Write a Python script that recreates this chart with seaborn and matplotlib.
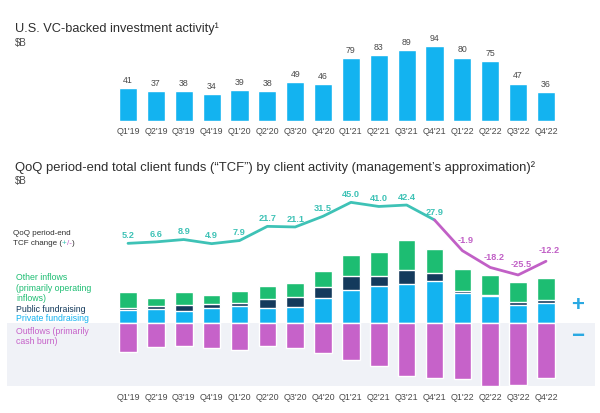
import numpy as np
import pandas as pd
import matplotlib
matplotlib.use("Agg")
import matplotlib.pyplot as plt
from matplotlib.patches import Rectangle
import seaborn as sns

quarters = ["Q1'19", "Q2'19", "Q3'19", "Q4'19", "Q1'20", "Q2'20", "Q3'20", "Q4'20",
            "Q1'21", "Q2'21", "Q3'21", "Q4'21", "Q1'22", "Q2'22", "Q3'22", "Q4'22"]
vc_investment = [41, 37, 38, 34, 39, 38, 49, 46, 79, 83, 89, 94, 80, 75, 47, 36]

private_fundraising = [16.5, 18, 15.5, 20, 22, 20, 21, 32.5, 43, 48.5, 50.5, 55, 39, 34.5, 23.5, 25.5]
public_fundraising = [3, 4.5, 8, 4.5, 4.5, 11.5, 13, 14, 17.5, 12, 18.5, 10.5, 3, 2, 3.5, 4]
other_inflows = [20.5, 9.5, 16.5, 11.5, 14.5, 17, 18, 21, 28.5, 32, 38.5, 31, 28, 26, 26.5, 28.5]
outflows = [37.5, 31.5, 30, 33, 34.5, 29.5, 33, 39, 47.5, 55.5, 68.5, 71.5, 73, 81.5, 80, 72]
tcf_change = [5.2, 6.6, 8.9, 4.9, 7.9, 21.7, 21.1, 31.5, 45.0, 41.0, 42.4, 27.9, -1.9, -18.2, -25.5, -12.2]

BLUE = "#13b3f0"
NAVY = "#143a5c"
GREEN = "#1dbd72"
PINK = "#c662c9"
TEAL = "#3ec2b6"
MAG = "#c160c6"
TXT = "#2e2e2e"
GREY = "#4a4a4a"
SIGN = "#2aa9e2"

sns.set_theme(style="white")
plt.rcParams["font.family"] = ["Liberation Sans", "DejaVu Sans"]

W, H = 600, 414
fig = plt.figure(figsize=(6, 4.14), dpi=100)


def px_axes(left, top, right, bottom):
    return fig.add_axes([left / W, 1 - bottom / H, (right - left) / W, (bottom - top) / H])


x_left, x_right = 114.1, 559.9

# ---------------- top chart ----------------
ax1 = px_axes(x_left, 42.7, x_right, 121.7)
df_top = pd.DataFrame({"quarter": quarters, "value": vc_investment})
sns.barplot(data=df_top, x="quarter", y="value", color=BLUE, saturation=1,
            width=0.65, ax=ax1)
ax1.set_xlim(-0.5, len(quarters) - 0.5)
ax1.set_ylim(0, 100)
for i, v in enumerate(vc_investment):
    ax1.annotate(f"{v}", (i, v), xytext=(0, 3), textcoords="offset points",
                 ha="center", va="bottom", fontsize=6.3, color=GREY)
ax1.set_xlabel("")
ax1.set_ylabel("")
ax1.set_yticks([])
ax1.tick_params(axis="x", length=0, pad=3.5, labelsize=6.4, labelcolor=GREY)
sns.despine(ax=ax1, left=True, bottom=True)

# ---------------- bottom chart ----------------
# shaded negative region (behind the axes)
fig.patches.append(Rectangle((7 / W, 1 - 387 / H), (595 - 7) / W, (387 - 324) / H,
                             transform=fig.transFigure, facecolor="#f0f2f7",
                             edgecolor="none", zorder=-5))

ax2 = px_axes(x_left, 190, x_right, 388)
ax2.patch.set_alpha(0)
tot_inflow = [a + b + c for a, b, c in zip(private_fundraising, public_fundraising, other_inflows)]
pub_priv = [a + b for a, b in zip(private_fundraising, public_fundraising)]
neg_out = [-v for v in outflows]
for vals, col in [(tot_inflow, GREEN), (pub_priv, NAVY), (private_fundraising, BLUE),
                  (neg_out, PINK)]:
    sns.barplot(x=quarters, y=vals, color=col, saturation=1, width=0.63, ax=ax2)
ax2.set_xlim(-0.5, len(quarters) - 0.5)
ax2.set_ylim(-(388 - 324) * 1.3, (324 - 190) * 1.3)
ax2.set_yticks([])
ax2.tick_params(axis="x", length=0, pad=3.5, labelsize=6.4, labelcolor=GREY)
sns.despine(ax=ax2, left=True, bottom=True)

# line on its own scale
ax3 = ax2.twinx()
ax3.patch.set_alpha(0)
idx = np.arange(len(quarters))
split = 11
sns.lineplot(x=idx[:split + 1], y=tcf_change[:split + 1], color=TEAL, lw=2.0, ax=ax3)
sns.lineplot(x=idx[split:], y=tcf_change[split:], color=MAG, lw=2.0, ax=ax3)
ax3.set_xlim(-0.5, len(quarters) - 0.5)
ax3.set_ylim((249.7 - 388) / 1.03, (249.7 - 190) / 1.03)
ax3.set_yticks([])
ax3.set_ylabel("")
for s in ax3.spines.values():
    s.set_visible(False)
for i, v in enumerate(tcf_change):
    if v >= 0:
        ax3.annotate(f"{v:.1f}", (i, v), xytext=(0, 3), textcoords="offset points",
                     ha="center", va="bottom", fontsize=6.6, color=TEAL, fontweight="bold")
    else:
        ax3.annotate(f"{v:.1f}", (i, v), xytext=(2.5, 5), textcoords="offset points",
                     ha="center", va="bottom", fontsize=6.6, color=MAG, fontweight="bold")

# ---------------- texts ----------------
def ftext(x, y, s, **kw):
    return fig.text(x / W, 1 - y / H, s, **kw)

ftext(15, 29, "U.S. VC-backed investment activity\u00b9", fontsize=9.2, color=TXT, va="center")
ftext(15, 43, "\\$B", fontsize=7, color=GREY, va="center")
ftext(15, 168, "QoQ period-end total client funds (\u201cTCF\u201d) by client activity "
      "(management\u2019s approximation)\u00b2", fontsize=9.35, color=TXT, va="center")
ftext(15, 181, "\\$B", fontsize=7, color=GREY, va="center")

ftext(13, 234, "QoQ period-end", fontsize=5.8, color=TXT, va="center")
# multi-coloured "TCF change (+/-)"
renderer = fig.canvas.get_renderer()
xpos = 13.0
for piece, col in [("TCF change (", TXT), ("+", TEAL), ("/-", MAG), (")", TXT)]:
    t = ftext(xpos, 244, piece, fontsize=5.8, color=col, va="center")
    xpos += t.get_window_extent(renderer).width

ftext(16, 288.3, "Other inflows\n(primarily operating\ninflows)", fontsize=6.3, color=GREEN,
      va="center", linespacing=1.2)
ftext(16, 309.3, "Public fundraising", fontsize=6.3, color=NAVY, va="center")
ftext(16, 318.7, "Private fundraising", fontsize=6.3, color=BLUE, va="center")
ftext(16, 336.7, "Outflows (primarily\ncash burn)", fontsize=6.3, color=PINK,
      va="center", linespacing=1.2)

ftext(577.5, 305.5, "+", fontsize=16, color=SIGN, va="center", ha="center", fontweight="bold")
ftext(577.5, 336.5, "\u2212", fontsize=16, color=SIGN, va="center", ha="center", fontweight="bold")

fig.savefig("out.png", dpi=100)
